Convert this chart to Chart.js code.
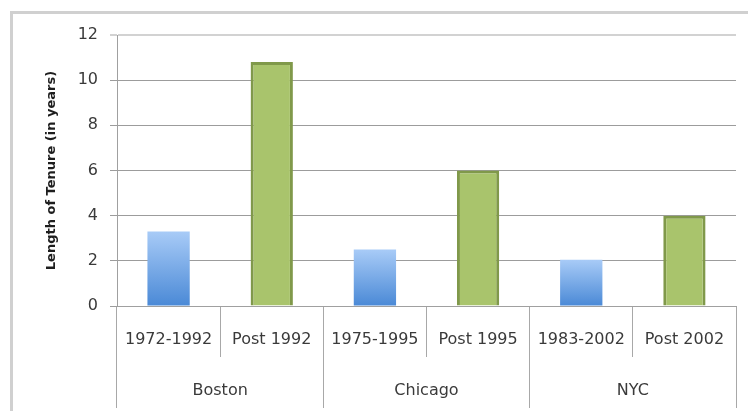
<!DOCTYPE html>
<html>
<head>
<meta charset="utf-8">
<script src="https://cdn.jsdelivr.net/npm/chart.js@4/dist/chart.umd.min.js"></script>
<style>
body{margin:0;background:#fff;overflow:hidden;}
#frame{position:absolute;left:10px;top:11px;width:760px;height:420px;border:3px solid #d0d0d0;box-sizing:border-box;}
#wrap{position:absolute;left:0;top:0;width:748px;height:411px;}
</style>
</head>
<body>
<div id="frame"></div>
<div id="wrap"><canvas id="myChart" width="748" height="411"></canvas></div>
<script>
// data
let periodLabels=["1972-1992","Post 1992","1975-1995","Post 1995","1983-2002","Post 2002"];
let cityLabels=["Boston","Chicago","NYC"];
let tenureYears=[3.3,10.8,2.5,6.0,2.05,4.0];
let periodType=["before","after","before","after","before","after"];
let yTicks=[0,2,4,6,8,10,12];

const fontName="'DejaVu Sans', sans-serif";

function barFill(ctx){
    let chart=ctx.chart;
    if(periodType[ctx.dataIndex]=="after"){
        return "#a9c46c";
    }
    if(!chart.chartArea){
        return "#7aaee8";
    }
    let y=chart.scales.y;
    let top=y.getPixelForValue(ctx.raw);
    let base=y.getPixelForValue(0);
    let g=chart.ctx.createLinearGradient(0,top,0,base);
    g.addColorStop(0,"#a8cbf7");
    g.addColorStop(1,"#4a89d6");
    return g;
}

const ctx=document.getElementById("myChart").getContext("2d");
const myChart=new Chart(ctx,{
    type:"bar",
    data:{
        labels:periodLabels,
        datasets:[{
            data:tenureYears,
            backgroundColor:barFill,
            borderColor:periodType.map(function(t){return t=="after"?"#80994a":"rgba(0,0,0,0)";}),
            borderWidth:periodType.map(function(t){return t=="after"?3:0;}),
            barPercentage:0.41,
            categoryPercentage:1
        }]
    },
    options:{
        responsive:false,
        animation:false,
        layout:{padding:{top:35,right:12,bottom:3,left:0}},
        plugins:{legend:{display:false},tooltip:{enabled:false}},
        scales:{
            y:{
                min:0,
                max:12,
                afterBuildTicks:function(scale){
                    scale.ticks=yTicks.map(function(v){return {value:v};});
                },
                afterFit:function(scale){scale.width=117;},
                grid:{
                    color:function(c){return c.tick && c.tick.value==12?"#d2d2d2":"#9c9c9c";},
                    lineWidth:function(c){return c.tick && c.tick.value==12?2:1;},
                    tickLength:7
                },
                border:{color:"#a0a0a0"},
                ticks:{
                    padding:12,
                    color:"#3a3a3a",
                    font:{family:fontName,size:16}
                },
                title:{
                    display:true,
                    text:"Length of Tenure (in years)",
                    color:"#1e1e1e",
                    font:{family:fontName,size:13,weight:"bold"},
                    padding:{top:44,bottom:0}
                }
            },
            x:{
                afterFit:function(scale){scale.height=51;},
                grid:{
                    offset:true,
                    drawOnChartArea:false,
                    tickLength:51,
                    color:"#a8a8a8"
                },
                border:{color:"#a0a0a0"},
                ticks:{
                    padding:-27,
                    color:"#3a3a3a",
                    font:{family:fontName,size:16},
                    maxRotation:0,
                    autoSkip:false
                }
            },
            x2:{
                type:"category",
                position:"bottom",
                labels:cityLabels,
                afterFit:function(scale){scale.height=51;},
                grid:{
                    offset:true,
                    drawOnChartArea:false,
                    tickLength:51,
                    color:"#a8a8a8"
                },
                border:{display:false},
                ticks:{
                    padding:-27,
                    color:"#3a3a3a",
                    font:{family:fontName,size:16},
                    maxRotation:0,
                    autoSkip:false
                }
            }
        }
    }
});
</script>
</body>
</html>
